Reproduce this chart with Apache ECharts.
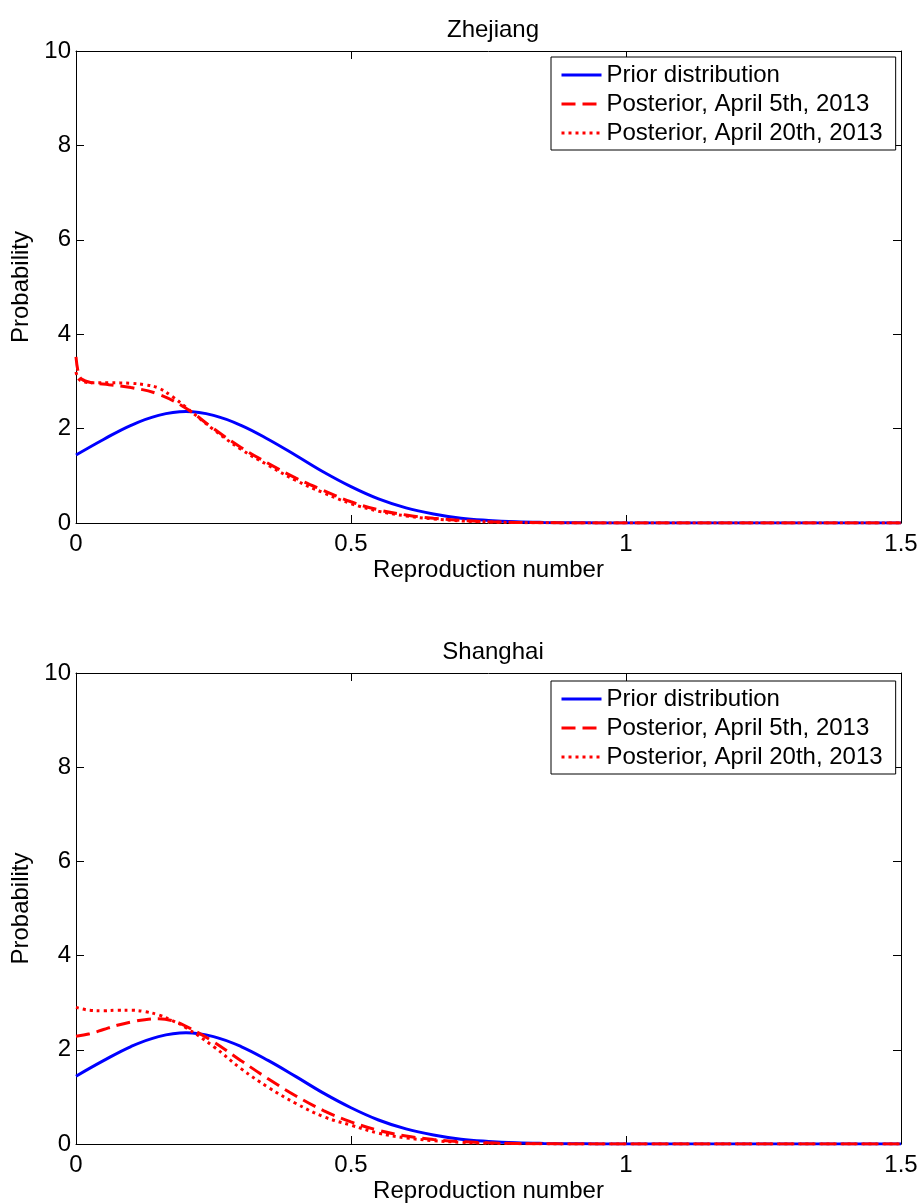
<!DOCTYPE html>
<html>
<head>
<meta charset="utf-8">
<script src="https://cdn.jsdelivr.net/npm/echarts@6/dist/echarts.min.js"></script>
<style>
  html, body { margin: 0; padding: 0; background: #fff; }
  #one { width: 921px; height: 1204px; }
</style>
</head>
<body>
<div id="one"></div>
<script>
// panel titles and legend names
var regions = ['Zhejiang', 'Shanghai'];
var seriesNames = ['Prior distribution', 'Posterior, April 5th, 2013', 'Posterior, April 20th, 2013'];

// prior distribution (same in both panels)
var priorX = [0, 0.05, 0.1, 0.15, 0.2, 0.25, 0.3, 0.35, 0.4, 0.45, 0.5, 0.55, 0.6, 0.65, 0.7, 0.75, 0.8, 0.85, 0.9, 0.95, 1.0, 1.1, 1.2, 1.3, 1.4, 1.5];
var priorY = [1.44, 1.77, 2.07, 2.28, 2.36, 2.28, 2.07, 1.77, 1.43, 1.08, 0.77, 0.51, 0.32, 0.19, 0.10, 0.054, 0.026, 0.012, 0.005, 0.002, 0.001, 0, 0, 0, 0, 0];

// Zhejiang posterior, April 5th
var zjApr5X = [0, 0.004, 0.01, 0.03, 0.06, 0.1, 0.15, 0.2, 0.25, 0.3, 0.35, 0.4, 0.45, 0.5, 0.55, 0.6, 0.65, 0.7, 0.75, 0.8, 0.85, 0.9, 0.95, 1.0, 1.25, 1.5];
var zjApr5Y = [3.52, 3.2, 3.05, 2.97, 2.93, 2.87, 2.73, 2.43, 2.0, 1.6, 1.26, 0.95, 0.69, 0.45, 0.28, 0.17, 0.10, 0.055, 0.028, 0.013, 0.006, 0.002, 0.001, 0, 0, 0];
// Zhejiang posterior, April 20th
var zjApr20X = [0, 0.005, 0.015, 0.03, 0.06, 0.1, 0.125, 0.15, 0.175, 0.2, 0.25, 0.3, 0.35, 0.4, 0.45, 0.5, 0.55, 0.6, 0.65, 0.7, 0.75, 0.8, 0.85, 0.9, 1.0, 1.25, 1.5];
var zjApr20Y = [3.2, 3.05, 2.99, 2.97, 2.97, 2.96, 2.93, 2.86, 2.68, 2.45, 1.98, 1.56, 1.22, 0.9, 0.64, 0.41, 0.25, 0.15, 0.085, 0.045, 0.022, 0.01, 0.004, 0.002, 0, 0, 0];

// Shanghai posterior, April 5th
var shApr5X = [0, 0.025, 0.05, 0.075, 0.1, 0.125, 0.15, 0.175, 0.2, 0.25, 0.3, 0.35, 0.4, 0.45, 0.5, 0.55, 0.6, 0.65, 0.7, 0.75, 0.8, 0.85, 0.9, 1.0, 1.25, 1.5];
var shApr5Y = [2.29, 2.34, 2.43, 2.52, 2.59, 2.64, 2.66, 2.62, 2.50, 2.17, 1.77, 1.38, 1.02, 0.71, 0.47, 0.29, 0.17, 0.095, 0.05, 0.025, 0.012, 0.005, 0.002, 0, 0, 0];
// Shanghai posterior, April 20th
var shApr20X = [0, 0.025, 0.05, 0.075, 0.1, 0.125, 0.15, 0.175, 0.2, 0.25, 0.3, 0.35, 0.4, 0.45, 0.5, 0.55, 0.6, 0.65, 0.7, 0.75, 0.8, 0.85, 1.0, 1.25, 1.5];
var shApr20Y = [2.90, 2.84, 2.83, 2.84, 2.84, 2.81, 2.74, 2.62, 2.47, 2.07, 1.6, 1.2, 0.86, 0.58, 0.40, 0.23, 0.13, 0.07, 0.036, 0.017, 0.008, 0.003, 0, 0, 0];

// axis ranges / ticks
var xMin = 0, xMax = 1.5, xStep = 0.5;
var yMin = 0, yMax = 10, yStep = 2;

var FONT = "'Liberation Sans', Arial, Helvetica, sans-serif";

function pairs(xs, ys) {
    return xs.map(function (x, i) { return [x, ys[i]]; });
}

var mainContainer = document.getElementById('one');
var chart = echarts.init(mainContainer, null, { renderer: 'canvas' });

var gridTops = [51, 673];
var gridHeights = [472, 474];
var legendTops = [57, 681];
var panelData = [
    [pairs(priorX, priorY), pairs(zjApr5X, zjApr5Y), pairs(zjApr20X, zjApr20Y)],
    [pairs(priorX, priorY), pairs(shApr5X, shApr5Y), pairs(shApr20X, shApr20Y)]
];
var lineStyles = [
    { color: '#0000ff', width: 3, type: 'solid' },
    { color: '#ff0000', width: 3, type: [14, 7] },
    { color: '#ff0000', width: 3, type: [3, 4] }
];

var grids = [], xAxes = [], yAxes = [], titles = [], legends = [], series = [];

function axisBase(show) {
    return {
        axisLine: { show: true, onZero: false, lineStyle: { color: '#000', width: 1 } },
        axisTick: { show: true, inside: true, length: 8, lineStyle: { color: '#000', width: 1 } },
        splitLine: { show: false },
        axisLabel: { show: show, color: '#000', fontSize: 24, fontFamily: FONT }
    };
}

regions.forEach(function (name, g) {
    grids.push({ left: 76, top: gridTops[g], width: 825, height: gridHeights[g], containLabel: false });
    titles.push({
        text: name, left: 488, top: gridTops[g] - 38, textAlign: 'center',
        textStyle: { fontSize: 24, fontWeight: 'normal', color: '#000', fontFamily: FONT }
    });

    var xb = axisBase(true);
    xAxes.push(Object.assign(xb, {
        type: 'value', gridIndex: g, position: 'bottom', min: xMin, max: xMax, interval: xStep,
        name: 'Reproduction number', nameLocation: 'middle', nameGap: 35,
        nameTextStyle: { fontSize: 24, color: '#000', fontFamily: FONT }
    }));
    xb.axisLabel.margin = 9;
    xAxes.push(Object.assign(axisBase(false), {
        type: 'value', gridIndex: g, position: 'top', min: xMin, max: xMax, interval: xStep
    }));

    var yb = axisBase(true);
    yAxes.push(Object.assign(yb, {
        type: 'value', gridIndex: g, position: 'left', min: yMin, max: yMax, interval: yStep,
        name: 'Probability', nameLocation: 'middle', nameGap: 40,
        nameTextStyle: { fontSize: 24, color: '#000', fontFamily: FONT }
    }));
    yb.axisLabel.margin = 5;
    yAxes.push(Object.assign(axisBase(false), {
        type: 'value', gridIndex: g, position: 'right', min: yMin, max: yMax, interval: yStep
    }));

    legends.push({
        data: seriesNames.map(function (n, k) {
            return { name: n, lineStyle: { width: 3, type: lineStyles[k].type, color: lineStyles[k].color } };
        }),
        orient: 'vertical', left: 551, top: legendTops[g],
        itemWidth: 40, itemHeight: 12, itemGap: 5,
        padding: [6, 13, 5, 9],
        backgroundColor: '#fff', borderColor: '#000', borderWidth: 1, borderRadius: 0,
        selectedMode: false,
        itemStyle: { opacity: 0 },
        lineStyle: { width: 3 },
        textStyle: { fontSize: 24, lineHeight: 24, color: '#000', fontFamily: FONT }
    });

    seriesNames.forEach(function (sName, k) {
        series.push({
            name: sName, type: 'line',
            xAxisIndex: g * 2, yAxisIndex: g * 2,
            data: panelData[g][k],
            showSymbol: false, symbol: 'none',
            smooth: 0.4,
            lineStyle: lineStyles[k],
            itemStyle: { color: lineStyles[k].color },
            z: 2 + k
        });
    });
});

var option = {
    backgroundColor: '#fff',
    animation: false,
    title: titles,
    grid: grids,
    xAxis: xAxes,
    yAxis: yAxes,
    legend: legends,
    series: series
};
chart.setOption(option);
</script>
</body>
</html>
